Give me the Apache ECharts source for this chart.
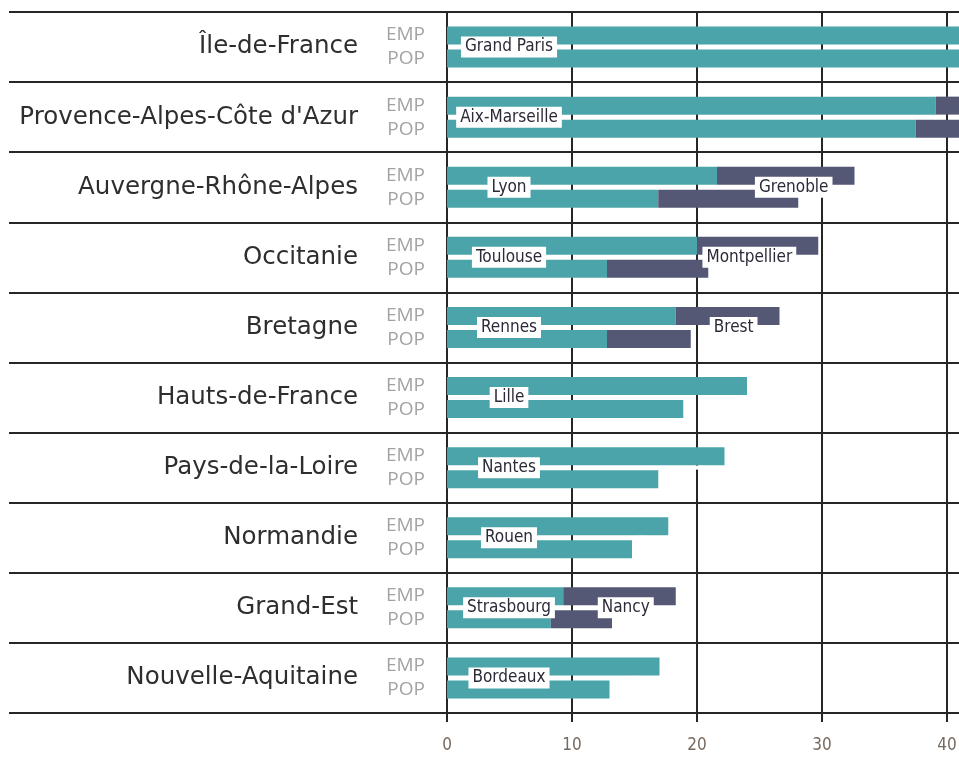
<!DOCTYPE html>
<html>
<head>
<meta charset="utf-8">
<script src="https://cdn.jsdelivr.net/npm/echarts@6/dist/echarts.min.js"></script>
<style>
html,body{margin:0;padding:0;background:#fff;}
#c{width:959px;height:758px;}
</style>
</head>
<body>
<div id="c"></div>
<script>
const regions = ['Île-de-France', "Provence-Alpes-Côte d'Azur", 'Auvergne-Rhône-Alpes', 'Occitanie', 'Bretagne', 'Hauts-de-France', 'Pays-de-la-Loire', 'Normandie', 'Grand-Est', 'Nouvelle-Aquitaine'];
const mainCities = ['Grand Paris', 'Aix-Marseille', 'Lyon', 'Toulouse', 'Rennes', 'Lille', 'Nantes', 'Rouen', 'Strasbourg', 'Bordeaux'];
const secondCities = ['', '', 'Grenoble', 'Montpellier', 'Brest', '', '', '', 'Nancy', ''];
const empMain = [58, 39.1, 21.6, 20.0, 18.3, 24.0, 22.2, 17.7, 9.3, 17.0];
const empSecond = [0, 6.0, 11.0, 9.7, 8.3, 0, 0, 0, 9.0, 0];
const popMain = [60, 37.5, 16.9, 12.8, 12.8, 18.9, 16.9, 14.8, 8.3, 13.0];
const popSecond = [0, 6.0, 11.2, 8.1, 6.7, 0, 0, 0, 4.9, 0];
const rowLabels = ['EMP', 'POP'];
const xTicks = [0, 10, 20, 30, 40];

const TEAL = '#4aa4a9';
const SLATE = '#555874';
const LINE = '#262626';

const subCats = [];
regions.forEach((r, i) => rowLabels.forEach(k => subCats.push(i + '|' + k)));

const chart = echarts.init(document.getElementById('c'), null, {renderer: 'canvas'});
const cityLabelStyle = {
  fontFamily: 'Liberation Sans Narrow, DejaVu Sans Condensed, sans-serif',
  fontSize: 17,
  color: '#2a2a38',
  backgroundColor: '#fff',
  padding: [2, 4, 2, 4]
};
chart.setOption({
  animation: false,
  grid: {left: 447, top: 12, width: 517, bottom: 45, containLabel: false, outerBoundsMode: 'none'},
  xAxis: {
    type: 'value', min: 0, max: 41.36, interval: 10,
    axisLine: {show: false},
    axisTick: {show: true, length: 9, lineStyle: {color: LINE, width: 2}},
    splitLine: {show: true, lineStyle: {color: LINE, width: 2}},
    axisLabel: {
      showMaxLabel: false, margin: 24,
      fontFamily: 'Liberation Sans Narrow, DejaVu Sans Condensed, sans-serif',
      fontSize: 17, color: '#76695f',
      formatter: v => (xTicks.indexOf(v) >= 0 ? String(v) : '')
    }
  },
  yAxis: [{
    type: 'category', data: regions, inverse: true,
    axisLine: {show: true, lineStyle: {color: LINE, width: 2}},
    axisTick: {show: true, length: 438, lineStyle: {color: LINE, width: 2}},
    splitLine: {show: true, lineStyle: {color: LINE, width: 2}},
    axisLabel: {margin: 89, fontFamily: 'DejaVu Sans, sans-serif', fontSize: 24.5, color: '#2e2e2e'}
  }, {
    type: 'category', data: subCats, inverse: true, position: 'left',
    axisLine: {show: false}, axisTick: {show: false}, splitLine: {show: false},
    axisLabel: {
      margin: 22,
      formatter: v => (v.split('|')[1] === 'EMP' ? '{e|EMP}' : '{p|POP}'),
      rich: {
        e: {padding: [11, 0, 0, 0], fontFamily: 'Open Sans, sans-serif', fontSize: 19, color: '#a3a3a3'},
        p: {padding: [0, 0, 11, 0], fontFamily: 'Open Sans, sans-serif', fontSize: 19, color: '#a3a3a3'}
      }
    }
  }],
  series: [{
    name: 'EMP', type: 'bar', stack: 'emp', yAxisIndex: 0, z: 3,
    barWidth: 18, barGap: '28%',
    data: empMain, itemStyle: {color: TEAL},
    label: Object.assign({
      show: true, position: 'insideLeft', distance: 62, align: 'center', verticalAlign: 'middle',
      offset: [0, 11.5],
      formatter: p => mainCities[p.dataIndex]
    }, cityLabelStyle)
  }, {
    name: 'EMP2', type: 'bar', stack: 'emp', yAxisIndex: 0, z: 3,
    barWidth: 18, barGap: '28%',
    data: empSecond, itemStyle: {color: SLATE},
    label: Object.assign({
      show: true, position: 'insideRight', distance: 22, align: 'right', verticalAlign: 'middle',
      offset: [0, 11.5],
      formatter: p => secondCities[p.dataIndex]
    }, cityLabelStyle)
  }, {
    name: 'POP', type: 'bar', stack: 'pop', yAxisIndex: 0, z: 2,
    barWidth: 18, barGap: '28%',
    data: popMain, itemStyle: {color: TEAL}
  }, {
    name: 'POP2', type: 'bar', stack: 'pop', yAxisIndex: 0, z: 2,
    barWidth: 18, barGap: '28%',
    data: popSecond, itemStyle: {color: SLATE}
  }]
});
</script>
</body>
</html>
